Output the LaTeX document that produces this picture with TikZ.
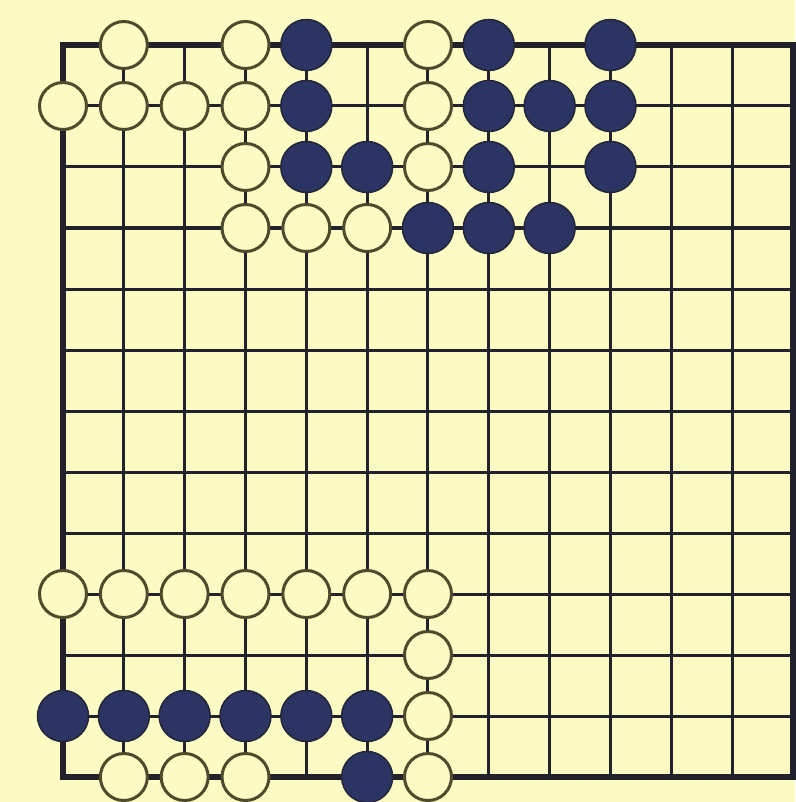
\documentclass[tikz,border=0pt]{standalone}
\definecolor{boardyellow}{HTML}{FCFBC4}
\definecolor{gridcol}{HTML}{22222C}
\definecolor{stoneblue}{HTML}{2B3462}
\definecolor{stonedark}{HTML}{222638}
\definecolor{wedge}{HTML}{4E4A2C}
\begin{document}
\begin{tikzpicture}[x=1pt,y=-1pt,
  gridline/.style={line width=3pt, draw=gridcol},
  edgeline/.style={line width=5.5pt, draw=gridcol, line join=miter},
  bstone/.style={circle, fill=stoneblue, draw=stonedark, line width=1.5pt, minimum size=51pt, inner sep=0pt},
  wstone/.style={circle, fill=boardyellow, draw=wedge, line width=3pt, minimum size=47pt, inner sep=0pt}]
\fill[boardyellow] (0,0) rectangle (795,802);
\useasboundingbox (0,0) rectangle (795,802);
% grid coordinates
\foreach \i in {0,...,12}{
  \coordinate (vt\i) at ({63+60.83*\i},45);
  \coordinate (vb\i) at ({63+60.83*\i},777);
  \coordinate (hl\i) at (63,{45+61*\i});
  \coordinate (hr\i) at (793,{45+61*\i});
}
\foreach \i in {1,...,11}{
  \draw[gridline] (vt\i) -- (vb\i);
  \draw[gridline] (hl\i) -- (hr\i);
}
\draw[edgeline] (vt0) -- (vt12) -- (vb12) -- (vb0) -- cycle;
% white stones (column/row)
\foreach \c/\r in {1/0,3/0,6/0,
  0/1,1/1,2/1,3/1,6/1,
  3/2,6/2,
  3/3,4/3,5/3,
  0/9,1/9,2/9,3/9,4/9,5/9,6/9,
  6/10,6/11,
  1/12,2/12,3/12,6/12}{
  \node[wstone] (w-\c-\r) at ({63+60.83*\c},{45+61*\r}) {};
}
% black stones
\foreach \c/\r in {4/0,7/0,9/0,
  4/1,7/1,8/1,9/1,
  4/2,5/2,7/2,9/2,
  6/3,7/3,8/3,
  0/11,1/11,2/11,3/11,4/11,5/11,
  5/12}{
  \node[bstone] (b-\c-\r) at ({63+60.83*\c},{45+61*\r}) {};
}
\end{tikzpicture}
\end{document}
